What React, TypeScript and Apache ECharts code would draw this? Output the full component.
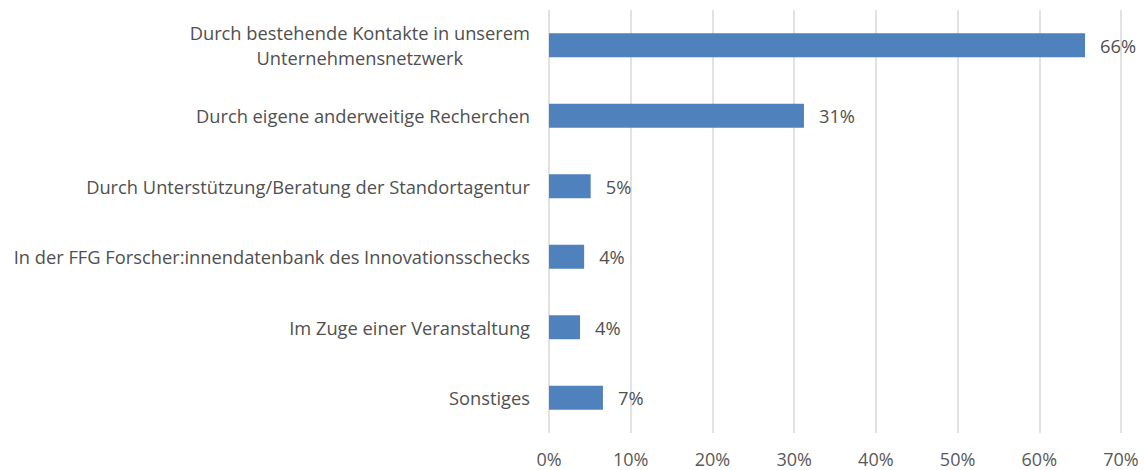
import React, { useEffect, useRef } from "react";
import * as echarts from "echarts";

const categories = [
  "Durch bestehende Kontakte in unserem\nUnternehmensnetzwerk",
  "Durch eigene anderweitige Recherchen",
  "Durch Unterstützung/Beratung der Standortagentur",
  "In der FFG Forscher:innendatenbank des Innovationsschecks",
  "Im Zuge einer Veranstaltung",
  "Sonstiges",
];
const values = [65.6, 31.2, 5.1, 4.3, 3.8, 6.6];
const xTicks = [0, 10, 20, 30, 40, 50, 60, 70];

const FONT = "Open Sans";
const FS = 18.3;

export default function App() {
  const ref = useRef<HTMLDivElement>(null);
  useEffect(() => {
    document.body.style.margin = "0";
    const chart = echarts.init(ref.current!, undefined, { renderer: "svg" });
    chart.setOption({
      animation: false,
      grid: { left: 549, right: 23, top: 10, bottom: 37, containLabel: false },
      xAxis: {
        type: "value",
        min: xTicks[0],
        max: xTicks[xTicks.length - 1],
        interval: 10,
        axisLine: { show: false },
        axisTick: { show: false },
        splitLine: { show: true, lineStyle: { color: "#d9d9d9", width: 1.5 } },
        axisLabel: {
          formatter: (v: number) => v + "%",
          color: "#595959",
          fontSize: 18,
          fontFamily: FONT,
          margin: 17,
        },
      },
      yAxis: {
        type: "category",
        data: categories,
        inverse: true,
        axisLine: { show: false },
        axisTick: { show: false },
        axisLabel: {
          margin: 19,
          color: "#505050",
          fontSize: FS,
          fontFamily: FONT,
          formatter: (v: string) => "{c|" + v.split("\n").join("}\n{c|") + "}",
          rich: {
            c: { align: "center", color: "#505050", fontSize: FS, fontFamily: FONT, lineHeight: 25 },
          },
        },
      },
      series: [
        {
          type: "bar",
          data: values,
          barWidth: "34%",
          itemStyle: { color: "#4f81bd" },
          label: {
            show: true,
            position: "right",
            distance: 15,
            color: "#505050",
            fontSize: FS,
            fontFamily: FONT,
            formatter: (p: any) => Math.round(p.value) + "%",
          },
        },
      ],
    });
    return () => chart.dispose();
  }, []);
  return <div ref={ref} style={{ width: 1144, height: 470 }} />;
}
